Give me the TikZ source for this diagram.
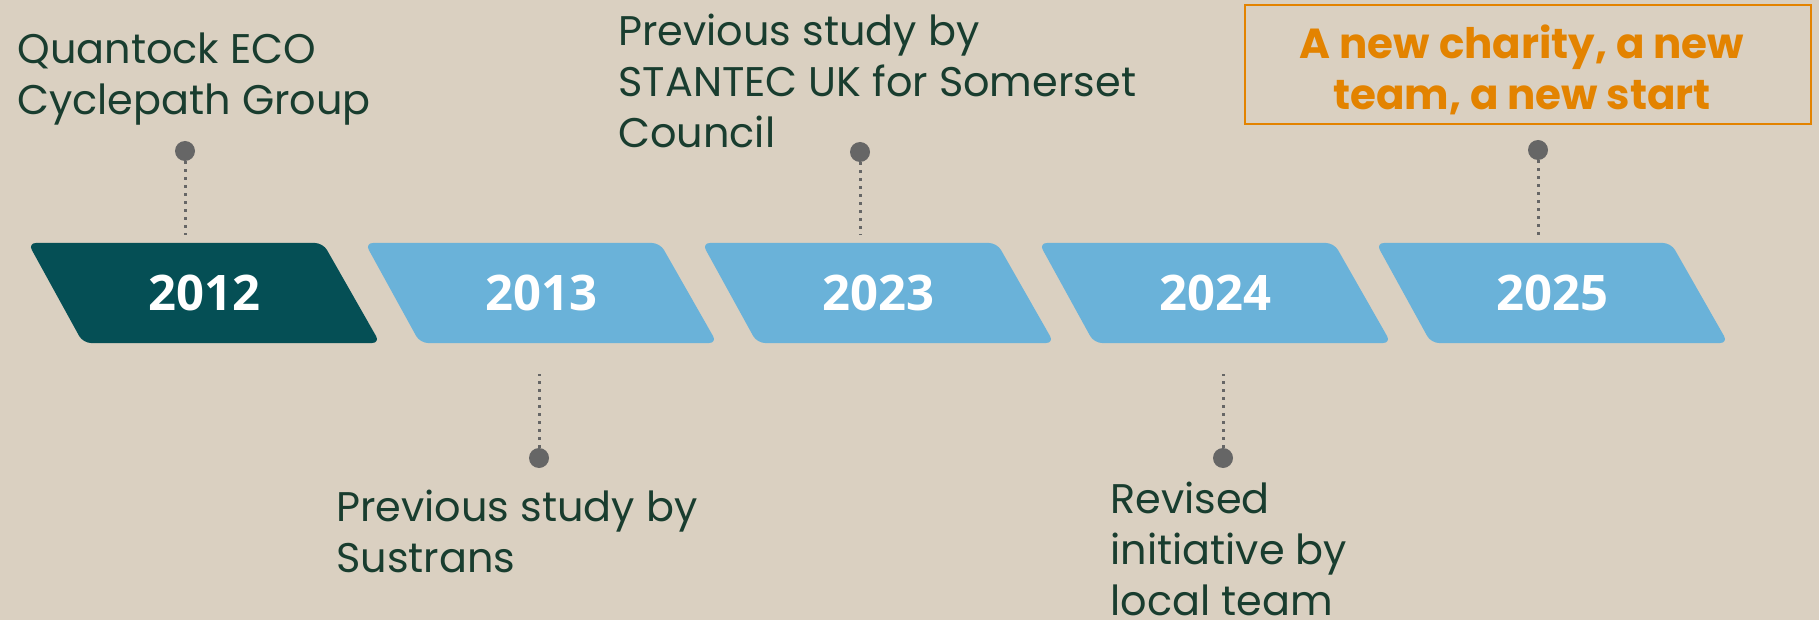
\documentclass[tikz,border=0pt]{standalone}
\usepackage{fontspec}
\setmainfont{Poppins}
\newfontfamily\yearfont{Open Sans}
\definecolor{bg}{HTML}{DAD0C1}
\definecolor{teal}{HTML}{054F55}
\definecolor{lblue}{HTML}{6AB2D9}
\definecolor{txt}{HTML}{193D2F}
\definecolor{orng}{HTML}{E38300}
\definecolor{dotgray}{HTML}{666666}
\tikzset{
  yearshape/.style={rounded corners=4pt},
  yearlabel/.style={text=white, font=\yearfont\bfseries\fontsize{24.5}{29}\selectfont, inner sep=0pt},
  dotnode/.style={circle, fill=dotgray, minimum size=10pt, inner sep=0pt},
  conn/.style={draw=dotgray, line width=1.5pt, dash pattern=on 1.5pt off 2.5pt},
  lbl/.style={text=txt, font=\fontsize{20.7}{25.5}\selectfont, align=left, inner sep=0pt, anchor=north west},
}
\begin{document}
\begin{tikzpicture}[x=0.5pt,y=-0.5pt]
\fill[bg] (0,0) rectangle (1819,620);
\useasboundingbox (0,0) rectangle (1819,620);
% year shapes
\foreach \xo/\col in {28/teal,365/lblue,702/lblue,1039/lblue,1376/lblue}{
  \fill[\col, yearshape] (\xo,243) -- (\xo+295,243) -- (\xo+352,343) -- (\xo+55,343) -- cycle;
}
\node[yearlabel] (y1) at (204,293) {2012};
\node[yearlabel] (y2) at (541,293) {2013};
\node[yearlabel] (y3) at (878,293) {2023};
\node[yearlabel] (y4) at (1215,293) {2024};
\node[yearlabel] (y5) at (1552,293) {2025};
% dots and connectors
\node[dotnode] (d1) at (185,151) {};
\coordinate (e1) at (185,235);
\draw[conn] (d1) -- (e1);
\node[dotnode] (d2) at (539,458) {};
\coordinate (e2) at (539,374);
\draw[conn] (d2) -- (e2);
\node[dotnode] (d3) at (860,152) {};
\coordinate (e3) at (860,235);
\draw[conn] (d3) -- (e3);
\node[dotnode] (d4) at (1223,458) {};
\coordinate (e4) at (1223,374);
\draw[conn] (d4) -- (e4);
\node[dotnode] (d5) at (1538,150) {};
\coordinate (e5) at (1538,235);
\draw[conn] (d5) -- (e5);
% labels
\node[lbl] (t1) at (17,32) {Quantock ECO\\Cyclepath Group};
\node[lbl] (t3) at (618,14) {Previous study by\\STANTEC UK for Somerset\\Council};
\node[lbl] (t2) at (336,490) {Previous study by\\Sustrans};
\node[lbl] (t4) at (1110,482) {Revised\\initiative by\\local team};
% orange box
\draw[orng, line width=0.8pt] (1245,5) rectangle (1811,124);
\node[text=orng, font=\bfseries\fontsize{21}{25.5}\selectfont, align=center, inner sep=0pt] (t5) at (1522,70) {A new charity, a new\\team, a new start};
\end{tikzpicture}
\end{document}
